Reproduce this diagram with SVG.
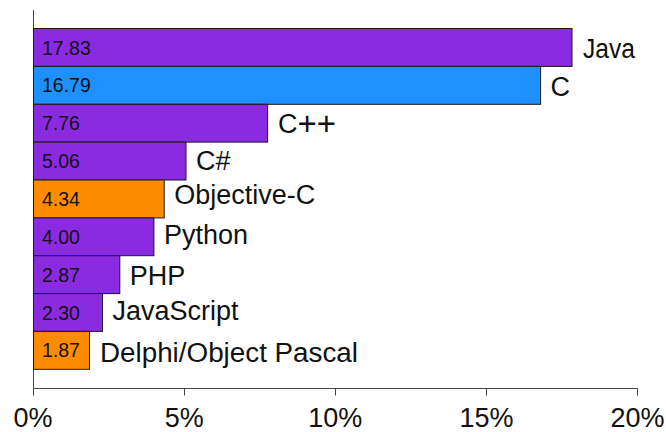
<svg xmlns="http://www.w3.org/2000/svg" width="666" height="432" viewBox="0 0 666 432">
<style>
.bar{stroke:#1a1a1a;stroke-width:1}
.p{fill:#8a2be2}
.b{fill:#1e90ff}
.o{fill:#ff8c00}
.val{font-family:"Liberation Sans",Arial,sans-serif;font-size:19.5px;fill:#111}
.lab{font-family:"Liberation Sans",Arial,sans-serif;font-size:27px;fill:#111}
.tick{font-family:"Liberation Sans",Arial,sans-serif;font-size:27px;fill:#111;text-anchor:middle}
.ax{stroke:#444;stroke-width:1;fill:none}
</style>
<rect width="666" height="432" fill="#fff"/>
<g id="axes">
<path class="ax" d="M33.5 10V388.5H637.5"/>
<path class="ax" d="M33.5 388.5v7M184.5 388.5v7M335.5 388.5v7M486.5 388.5v7M637.5 388.5v7"/>
<text class="tick" x="33" y="427">0%</text>
<text class="tick" x="184.2" y="427">5%</text>
<text class="tick" x="335.3" y="427">10%</text>
<text class="tick" x="486.5" y="427">15%</text>
<text class="tick" x="637.6" y="427">20%</text>
</g>
<g id="bar-java"><rect class="bar p" x="33.5" y="28.5" width="538.5" height="37.9"/><text class="val" x="42" y="54.5">17.83</text><text class="lab" x="583" y="58.3" textLength="52" lengthAdjust="spacingAndGlyphs">Java</text></g>
<g id="bar-c"><rect class="bar b" x="33.5" y="66.4" width="507.1" height="37.9"/><text class="val" x="42" y="92.4">16.79</text><text class="lab" x="550.6" y="95.5">C</text></g>
<g id="bar-cpp"><rect class="bar p" x="33.5" y="104.3" width="234.1" height="37.8"/><text class="val" x="42" y="130.3">7.76</text><text class="lab" x="278" y="133.3">C<tspan font-size="33" dy="2">++</tspan></text></g>
<g id="bar-csharp"><rect class="bar p" x="33.5" y="142.1" width="152.5" height="37.9"/><text class="val" x="42" y="168.1">5.06</text><text class="lab" x="196" y="169.5">C#</text></g>
<g id="bar-objc"><rect class="bar o" x="33.5" y="180" width="130.7" height="37.9"/><text class="val" x="42" y="206">4.34</text><text class="lab" x="174.2" y="204.3">Objective-C</text></g>
<g id="bar-python"><rect class="bar p" x="33.5" y="217.9" width="120.4" height="37.8"/><text class="val" x="42" y="243.9">4.00</text><text class="lab" x="163.9" y="244.3">Python</text></g>
<g id="bar-php"><rect class="bar p" x="33.5" y="255.7" width="86.3" height="37.9"/><text class="val" x="42" y="281.7">2.87</text><text class="lab" x="129.8" y="284.5">PHP</text></g>
<g id="bar-js"><rect class="bar p" x="33.5" y="293.6" width="69" height="37.8"/><text class="val" x="42" y="319.6">2.30</text><text class="lab" x="112.5" y="320">JavaScript</text></g>
<g id="bar-delphi"><rect class="bar o" x="33.5" y="331.4" width="56" height="37.9"/><text class="val" x="42" y="357.4">1.87</text><text class="lab" x="100" y="361.7" textLength="258" lengthAdjust="spacingAndGlyphs">Delphi/Object Pascal</text></g>
</svg>
